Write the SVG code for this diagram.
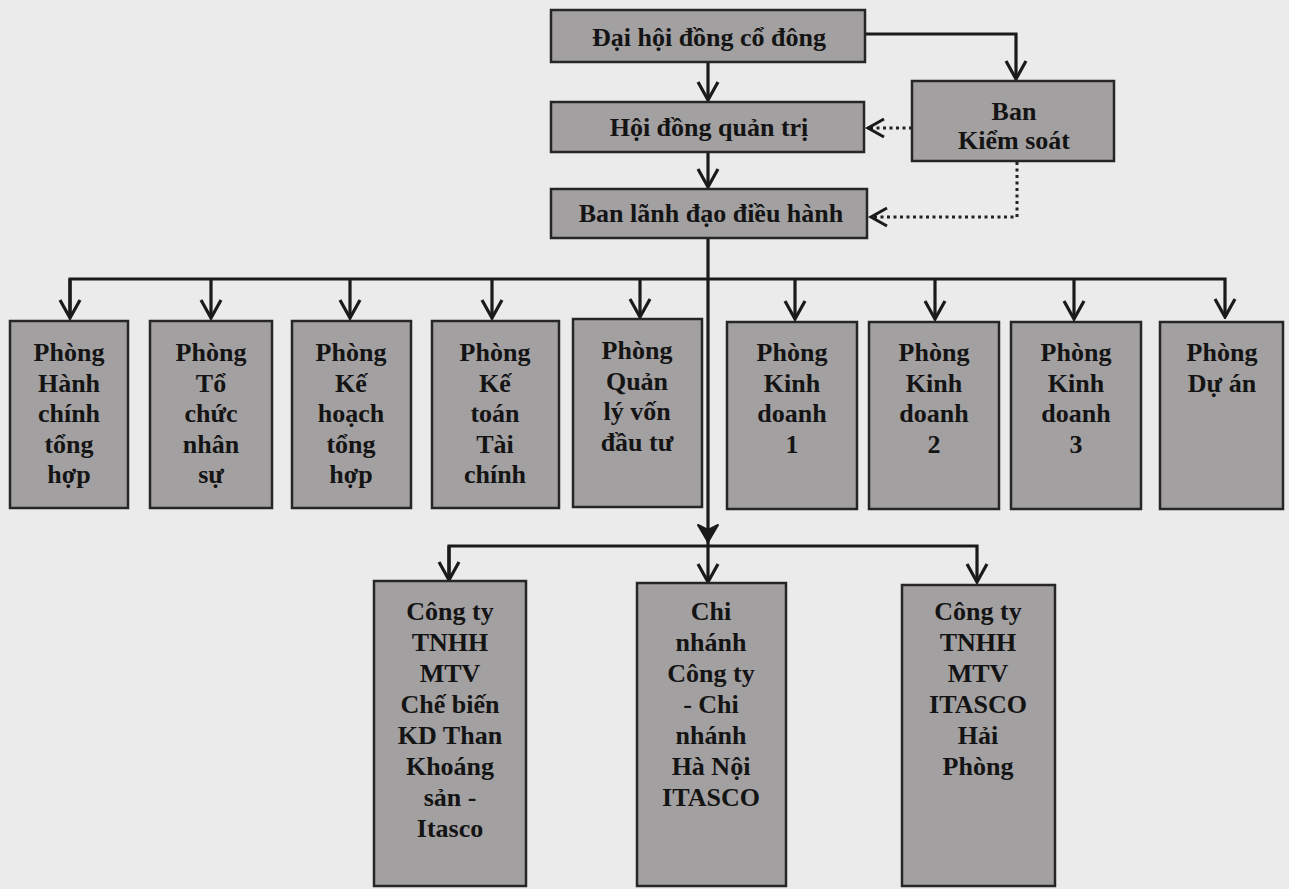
<svg xmlns="http://www.w3.org/2000/svg" width="1289" height="889" viewBox="0 0 1289 889">
<style>
.bg{fill:#ebebeb}
.box{fill:#a3a0a1;stroke:#262626;stroke-width:2.5}
.t{font-family:"Liberation Serif","Times New Roman",serif;font-weight:bold;font-size:26px;fill:#141414;text-anchor:middle}
.ln{fill:none;stroke:#1a1a1a;stroke-width:3.2}
.dot{fill:none;stroke:#222;stroke-width:3;stroke-dasharray:3 3.5}
</style>
<defs>
<marker id="chev" viewBox="-21 -12 23 24" refX="0" refY="0" markerWidth="23" markerHeight="24" markerUnits="userSpaceOnUse" orient="auto">
<path d="M-18,-10 L0,0 L-18,10" fill="none" stroke="#1a1a1a" stroke-width="3.2"/>
</marker>
</defs>
<rect class="bg" x="0" y="0" width="1289" height="889"/>

<g id="connectors">
<line class="ln" x1="708" y1="62" x2="708" y2="100" marker-end="url(#chev)"/>
<line class="ln" x1="708" y1="152" x2="708" y2="187" marker-end="url(#chev)"/>
<polyline class="ln" points="865,34 1016,34 1016,79" marker-end="url(#chev)"/>
<line class="dot" x1="912" y1="128" x2="869" y2="128"/>
<path d="M884,119 L868,128 L884,137" fill="none" stroke="#1a1a1a" stroke-width="3"/>
<polyline class="dot" points="1017,162 1017,217 872,217"/>
<path d="M887,208 L871,217 L887,226" fill="none" stroke="#1a1a1a" stroke-width="3"/>
<line class="ln" x1="708" y1="238" x2="708" y2="546"/>
<path d="M698,525 L708,542 L718,525 L708,530 Z" fill="#1a1a1a" stroke="#1a1a1a" stroke-width="2" stroke-linejoin="round"/>
<polyline class="ln" points="70,317 70,279 1225,279 1225,317" marker-end="url(#chev)"/>
<line class="ln" x1="70" y1="279" x2="70" y2="318" marker-end="url(#chev)"/>
<line class="ln" x1="211" y1="279" x2="211" y2="318" marker-end="url(#chev)"/>
<line class="ln" x1="350" y1="279" x2="350" y2="318" marker-end="url(#chev)"/>
<line class="ln" x1="492" y1="279" x2="492" y2="318" marker-end="url(#chev)"/>
<line class="ln" x1="640" y1="279" x2="640" y2="317" marker-end="url(#chev)"/>
<line class="ln" x1="795" y1="279" x2="795" y2="319" marker-end="url(#chev)"/>
<line class="ln" x1="935" y1="279" x2="935" y2="319" marker-end="url(#chev)"/>
<line class="ln" x1="1074" y1="279" x2="1074" y2="319" marker-end="url(#chev)"/>
<polyline class="ln" points="449,580 449,546 977,546 977,582" marker-end="url(#chev)"/>
<line class="ln" x1="449" y1="546" x2="449" y2="580" marker-end="url(#chev)"/>
<line class="ln" x1="708" y1="546" x2="708" y2="582" marker-end="url(#chev)"/>
</g>

<g id="dai-hoi"><rect class="box" x="551" y="10" width="314" height="52"/><text class="t" x="709" y="46">Đại hội đồng cổ đông</text></g>
<g id="hoi-dong"><rect class="box" x="551" y="102" width="313" height="50"/><text class="t" x="709" y="136">Hội đồng quản trị</text></g>
<g id="ban-kiem-soat"><rect class="box" x="912" y="81" width="202" height="80"/><text class="t" x="1014" y="120">Ban</text><text class="t" x="1014" y="149">Kiểm soát</text></g>
<g id="ban-lanh-dao"><rect class="box" x="551" y="189" width="316" height="49"/><text class="t" x="711" y="222">Ban lãnh đạo điều hành</text></g>

<g id="p-hcth"><rect class="box" x="10" y="321" width="118" height="187"/><text class="t" x="69" y="361">Phòng</text><text class="t" x="69" y="391.5">Hành</text><text class="t" x="69" y="422">chính</text><text class="t" x="69" y="452.5">tổng</text><text class="t" x="69" y="483">hợp</text></g>
<g id="p-tcns"><rect class="box" x="150" y="321" width="122" height="187"/><text class="t" x="211" y="361">Phòng</text><text class="t" x="211" y="391.5">Tổ</text><text class="t" x="211" y="422">chức</text><text class="t" x="211" y="452.5">nhân</text><text class="t" x="211" y="483">sự</text></g>
<g id="p-khth"><rect class="box" x="292" y="321" width="119" height="187"/><text class="t" x="351" y="361">Phòng</text><text class="t" x="351" y="391.5">Kế</text><text class="t" x="351" y="422">hoạch</text><text class="t" x="351" y="452.5">tổng</text><text class="t" x="351" y="483">hợp</text></g>
<g id="p-ktc"><rect class="box" x="432" y="321" width="127" height="187"/><text class="t" x="495" y="361">Phòng</text><text class="t" x="495" y="391.5">Kế</text><text class="t" x="495" y="422">toán</text><text class="t" x="495" y="452.5">Tài</text><text class="t" x="495" y="483">chính</text></g>
<g id="p-qlv"><rect class="box" x="573" y="319" width="129" height="188"/><text class="t" x="637" y="359">Phòng</text><text class="t" x="637" y="389.5">Quản</text><text class="t" x="637" y="420">lý vốn</text><text class="t" x="637" y="450.5">đầu tư</text></g>
<g id="p-kd1"><rect class="box" x="727" y="322" width="130" height="187"/><text class="t" x="792" y="361">Phòng</text><text class="t" x="792" y="391.5">Kinh</text><text class="t" x="792" y="422">doanh</text><text class="t" x="792" y="452.5">1</text></g>
<g id="p-kd2"><rect class="box" x="869" y="322" width="130" height="187"/><text class="t" x="934" y="361">Phòng</text><text class="t" x="934" y="391.5">Kinh</text><text class="t" x="934" y="422">doanh</text><text class="t" x="934" y="452.5">2</text></g>
<g id="p-kd3"><rect class="box" x="1011" y="322" width="130" height="187"/><text class="t" x="1076" y="361">Phòng</text><text class="t" x="1076" y="391.5">Kinh</text><text class="t" x="1076" y="422">doanh</text><text class="t" x="1076" y="452.5">3</text></g>
<g id="p-da"><rect class="box" x="1160" y="322" width="123" height="187"/><text class="t" x="1222" y="361">Phòng</text><text class="t" x="1222" y="391.5">Dự án</text></g>

<g id="ct-chebien"><rect class="box" x="374" y="581" width="152" height="305"/><text class="t" x="450" y="620">Công ty</text><text class="t" x="450" y="651">TNHH</text><text class="t" x="450" y="682">MTV</text><text class="t" x="450" y="713">Chế biến</text><text class="t" x="450" y="744">KD Than</text><text class="t" x="450" y="775">Khoáng</text><text class="t" x="450" y="806">sản -</text><text class="t" x="450" y="837">Itasco</text></g>
<g id="cn-hanoi"><rect class="box" x="637" y="583" width="149" height="303"/><text class="t" x="711" y="620">Chi</text><text class="t" x="711" y="651">nhánh</text><text class="t" x="711" y="682">Công ty</text><text class="t" x="711" y="713">- Chi</text><text class="t" x="711" y="744">nhánh</text><text class="t" x="711" y="775">Hà Nội</text><text class="t" x="711" y="806">ITASCO</text></g>
<g id="ct-haiphong"><rect class="box" x="902" y="585" width="153" height="301"/><text class="t" x="978" y="620">Công ty</text><text class="t" x="978" y="651">TNHH</text><text class="t" x="978" y="682">MTV</text><text class="t" x="978" y="713">ITASCO</text><text class="t" x="978" y="744">Hải</text><text class="t" x="978" y="775">Phòng</text></g>
</svg>
